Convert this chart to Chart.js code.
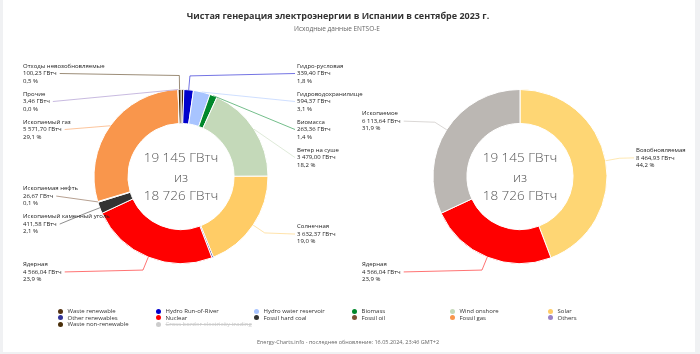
<!DOCTYPE html>
<html>
<head>
<meta charset="utf-8">
<script src="https://cdn.jsdelivr.net/npm/chart.js@4.4.0/dist/chart.umd.min.js"></script>
<style>
html, body { margin: 0; padding: 0; background: #f0f1f3; font-family: "Open Sans", sans-serif; }
#card { position: absolute; left: 3px; top: 0; width: 692px; height: 352px; background: #fff; }
canvas { position: absolute; left: 0; top: 0; }
#title { position: absolute; left: 0; width: 676px; top: 9px; text-align: center; font-size: 9px; font-weight: 700; color: #333; }
#subtitle { position: absolute; left: 0; width: 674px; top: 24px; text-align: center; font-size: 6.5px; color: #666; }
#legend { position: absolute; left: 58px; top: 308px; display: grid; grid-template-columns: repeat(6, 98px); font-size: 6px; color: #333; }
#legend div { height: 6.7px; line-height: 6.7px; white-space: nowrap; }
#legend span { display: inline-block; width: 5px; height: 5px; border-radius: 50%; margin-right: 4.5px; vertical-align: -0.5px; }
#legend .off { color: #ccc; text-decoration: line-through; }
#footer { position: absolute; left: 0; width: 696px; top: 338px; text-align: center; font-size: 5.5px; color: #666; }
</style>
</head>
<body>
<div id="card"></div>
<canvas id="sources" width="700" height="354"></canvas>
<canvas id="groups" width="700" height="354"></canvas>
<div id="title">Чистая генерация электроэнергии в Испании в сентябре 2023 г.</div>
<div id="subtitle">Исходные данные ENTSO-E</div>
<div id="legend"></div>
<div id="footer">Energy-Charts.info - последнее обновление: 16.05.2024, 23:46 GMT+2</div>
<script>
// net generation by source, GWh
const sources = ["Waste renewable", "Hydro Run-of-River", "Hydro water reservoir", "Biomass", "Wind onshore", "Solar",
	"Other renewables", "Nuclear", "Fossil hard coal", "Fossil oil", "Fossil gas", "Others", "Waste non-renewable"];
const sourceNames = [null, "Гидро-русловая", "Гидроводохранилище", "Биомасса", "Ветер на суше", "Солнечная",
	null, "Ядерная", "Ископаемый каменный уголь", "Ископаемая нефть", "Ископаемый газ", "Прочие", "Отходы невозобновляемые"];
const sourceValues = [100.20, 339.40, 594.37, 263.36, 3479.00, 3632.37, 56.23, 4566.04, 411.58, 26.67, 5571.70, 3.46, 100.23];
const sourceColors = ["#553311", "#0000cc", "#a8c4ff", "#00882b", "#c4d9b9", "#ffcc66",
	"#333399", "#ff0000", "#333333", "#7a5237", "#f9964c", "#9b82c6", "#4a2f0a"];

// grouped totals
const groupNames = ["Возобновляемая", "Ядерная", "Ископаемое"];
const groupValues = [8464.93, 4566.04, 6113.64];
const groupColors = ["#fed674", "#ff0000", "#bbb7b3"];

const loadTotal = 18726;

function fmt(v, d) {
	const parts = v.toFixed(d).split(".");
	parts[0] = parts[0].replace(/\B(?=(\d{3})+(?!\d))/g, " ");
	return parts.join(",");
}

function spread(items, gap, minY, maxY) {
	items.sort((a, b) => a.y - b.y);
	let groups = items.map(it => ({ items: [it], top: it.y }));
	const fix = g => {
		const n = g.items.length;
		g.top = Math.min(Math.max(g.top, minY), maxY - (n - 1) * gap);
	};
	groups.forEach(fix);
	let merged = true;
	while (merged) {
		merged = false;
		for (let i = 0; i < groups.length - 1; i++) {
			const g = groups[i], h = groups[i + 1];
			if (g.top + g.items.length * gap > h.top) {
				const all = g.items.concat(h.items);
				const mean = all.reduce((s, it) => s + it.y, 0) / all.length;
				const ng = { items: all, top: mean - (all.length - 1) * gap / 2 };
				fix(ng);
				groups.splice(i, 2, ng);
				merged = true;
				break;
			}
		}
	}
	groups.forEach(g => g.items.forEach((it, k) => { it.ly = g.top + k * gap; }));
}

const outerLabels = {
	id: "outerLabels",
	afterDraw(chart, args, opts) {
		const ctx = chart.ctx;
		const ds = chart.data.datasets[0];
		const total = ds.data.reduce((a, b) => a + b, 0);
		const items = [];
		let cx = 0, cy = 0, R = 0;
		chart.getDatasetMeta(0).data.forEach((arc, i) => {
			const p = arc.getProps(["x", "y", "startAngle", "endAngle", "outerRadius"], true);
			cx = p.x; cy = p.y; R = p.outerRadius;
			const name = opts.names[i];
			if (!name) return;
			const a = (p.startAngle + p.endAngle) / 2;
			const c = Math.cos(a), s = Math.sin(a);
			const v = ds.data[i];
			items.push({
				left: c < 0,
				touch: [p.x + R * c, p.y + R * s],
				brk: [p.x + (R + 14) * c, p.y + (R + 14) * s],
				y: p.y + (R + 16) * s,
				lines: [name, fmt(v, 2) + " ГВтч", fmt(v / total * 100, 1) + " %"],
				color: ds.backgroundColor[i]
			});
		});
		const lim = R + 16;
		spread(items.filter(it => it.left), 28, cy - lim, cy + lim);
		spread(items.filter(it => !it.left), 28, cy - lim, cy + lim);

		ctx.save();
		ctx.font = '6px "Open Sans"';
		ctx.textBaseline = "middle";
		items.forEach(it => {
			const x = it.left ? cx - 158 : cx + 116;
			const ax = it.left ? x + ctx.measureText(it.lines[1]).width + 3 : x - 2;
			ctx.strokeStyle = it.color;
			ctx.globalAlpha = 0.55;
			ctx.lineWidth = 1;
			ctx.beginPath();
			ctx.moveTo(ax, it.ly);
			const straight = (it.brk[1] - it.touch[1]) * (it.ly - it.touch[1]) < 0;
			if (!straight) ctx.lineTo(it.brk[0], it.brk[1]);
			ctx.lineTo(it.touch[0], it.touch[1]);
			ctx.stroke();
			ctx.globalAlpha = 1;
			ctx.fillStyle = "#222";
			it.lines.forEach((t, k) => ctx.fillText(t, x, it.ly + (k - 1) * 7.5));
		});
		ctx.restore();
	}
};

const centerText = {
	id: "centerText",
	afterDraw(chart) {
		const arc = chart.getDatasetMeta(0).data[0];
		const { x, y } = arc.getProps(["x", "y"], true);
		const total = chart.data.datasets[0].data.reduce((a, b) => a + b, 0);
		const ctx = chart.ctx;
		ctx.save();
		ctx.font = '300 13.5px "Open Sans"';
		ctx.fillStyle = "#555";
		ctx.textAlign = "center";
		ctx.textBaseline = "middle";
		ctx.fillText(fmt(total, 0) + " ГВтч", x, y - 18);
		ctx.fillText("из", x, y + 1.5);
		ctx.fillText(fmt(loadTotal, 0) + " ГВтч", x, y + 20);
		ctx.restore();
	}
};

function donut(id, labels, names, values, colors, pad) {
	return new Chart(document.getElementById(id), {
		type: "doughnut",
		data: {
			labels: labels,
			datasets: [{ data: values, backgroundColor: colors, borderColor: "#fff", borderWidth: 1 }]
		},
		options: {
			responsive: false,
			animation: false,
			devicePixelRatio: 1,
			cutout: "61%",
			layout: { padding: pad },
			plugins: {
				legend: { display: false },
				tooltip: { enabled: false },
				outerLabels: { names: names }
			}
		},
		plugins: [outerLabels, centerText]
	});
}

donut("sources", sources, sourceNames, sourceValues, sourceColors, { left: 93.5, right: 431.5, top: 89, bottom: 90 });
donut("groups", groupNames, groupNames, groupValues, groupColors, { left: 432.5, right: 92.5, top: 89, bottom: 90 });

// legend, same order as the data
const legend = document.getElementById("legend");
sources.concat(["Cross border electricity trading"]).forEach((name, i) => {
	const d = document.createElement("div");
	const off = i >= sources.length;
	if (off) d.className = "off";
	d.innerHTML = '<span style="background:' + (off ? "#ccc" : sourceColors[i]) + '"></span>' + name;
	legend.appendChild(d);
});
</script>
</body>
</html>
